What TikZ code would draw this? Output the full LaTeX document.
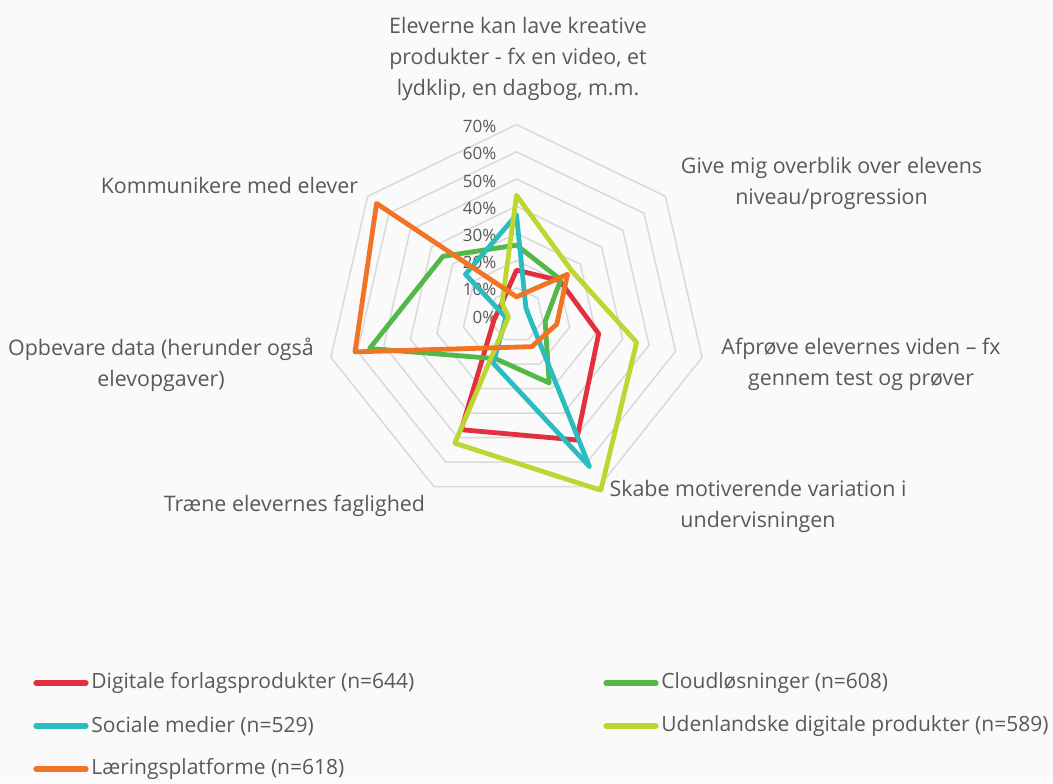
\documentclass[tikz,border=0pt]{standalone}
\usepackage{fontspec}
\setmainfont{Open Sans}
\definecolor{bggray}{HTML}{FAFAFA}
\definecolor{ringgray}{HTML}{D9D9D9}
\definecolor{labelgray}{HTML}{595959}
\definecolor{cRed}{HTML}{E2303F}
\definecolor{cGreen}{HTML}{52B848}
\definecolor{cCyan}{HTML}{2BBCBF}
\definecolor{cLime}{HTML}{BDD631}
\definecolor{cOrange}{HTML}{F37324}
\tikzset{
  gridring/.style={draw=ringgray, line width=0.75pt},
  seriesline/.style={line width=2.4pt, line join=round},
  axislabel/.style={text=labelgray, font=\fontsize{10.7}{15.5}\selectfont, align=center, inner sep=0pt},
  pctlabel/.style={text=labelgray, font=\fontsize{8.5}{10}\selectfont, anchor=east, inner sep=0pt},
  legendtext/.style={text=labelgray, font=\fontsize{10.5}{13}\selectfont, anchor=west, inner sep=0pt},
  legendline/.style={line width=2.6pt, line cap=round}
}
% one radar series: colour, then seven values in percent (clockwise from the top)
\newcommand{\rs}{2.72}
\newcommand{\radarseries}[8]{%
  \draw[seriesline, #1] (90:#2*\rs) -- (38.57:#3*\rs) -- (-12.86:#4*\rs) -- (-64.29:#5*\rs)
    -- (-115.71:#6*\rs) -- (-167.14:#7*\rs) -- (141.43:#8*\rs) -- cycle;}
\begin{document}
\begin{tikzpicture}[x=0.5pt, y=0.5pt]
\fill[bggray] (-516.5,-468) rectangle (536.5,315);
\useasboundingbox (-516.5,-468) rectangle (536.5,315);

% rings
\foreach \v in {10,20,...,70}
  \draw[gridring] (90:\v*\rs) -- (38.57:\v*\rs) -- (-12.86:\v*\rs) -- (-64.29:\v*\rs)
    -- (-115.71:\v*\rs) -- (-167.14:\v*\rs) -- (141.43:\v*\rs) -- cycle;

% percent labels
\foreach \v in {0,10,...,70}
  \node[pctlabel] (pct\v) at (-19.8,\v*\rs-2) {\v\%};

% series
\radarseries{cRed}{16.5}{20.3}{31}{51}{46.8}{8.5}{6.9}
\radarseries{cGreen}{25.7}{20.8}{10.8}{27.7}{17.8}{55.4}{34.6}
\radarseries{cCyan}{36.8}{4.4}{5}{61.9}{19.7}{4}{24}
\radarseries{cLime}{44}{26}{45.3}{71.5}{52.3}{3}{6.8}
\radarseries{cOrange}{6.7}{24}{15.2}{12.9}{13.3}{60.9}{65.8}

% axis labels
\node[axislabel] (kreativ) at (1.5,256) {Eleverne kan lave kreative\\produkter - fx en video, et\\lydklip, en dagbog, m.m.};
\node[axislabel] (overblik) at (315,131.5) {Give mig overblik over elevens\\niveau/progression};
\node[axislabel] (afproeve) at (344.5,-49) {Afprøve elevernes viden – fx\\gennem test og prøver};
\node[axislabel] (motivation) at (241.5,-191.5) {Skabe motiverende variation i\\undervisningen};
\node[axislabel] (faglighed) at (-222,-191) {Træne elevernes faglighed};
\node[axislabel] (opbevare) at (-355.5,-49.5) {Opbevare data (herunder også\\elevopgaver)};
\node[axislabel] (kommunikere) at (-287,130) {Kommunikere med elever};

% legend
\node[legendtext] (legDigital) at (-425.5,-368) {Digitale forlagsprodukter (n=644)};
\node[legendtext] (legCloud) at (144.5,-368) {Cloudløsninger (n=608)};
\node[legendtext] (legSocial) at (-425.5,-411) {Sociale medier (n=529)};
\node[legendtext] (legUdland) at (144.5,-411) {Udenlandske digitale produkter (n=589)};
\node[legendtext] (legLaering) at (-425.5,-454) {Læringsplatforme (n=618)};
\draw[legendline, cRed] ([xshift=-27.5pt]legDigital.west) -- ([xshift=-2.5pt]legDigital.west);
\draw[legendline, cGreen] ([xshift=-27.5pt]legCloud.west) -- ([xshift=-2.5pt]legCloud.west);
\draw[legendline, cCyan] ([xshift=-27.5pt]legSocial.west) -- ([xshift=-2.5pt]legSocial.west);
\draw[legendline, cLime] ([xshift=-27.5pt]legUdland.west) -- ([xshift=-2.5pt]legUdland.west);
\draw[legendline, cOrange] ([xshift=-27.5pt]legLaering.west) -- ([xshift=-2.5pt]legLaering.west);
\end{tikzpicture}
\end{document}
